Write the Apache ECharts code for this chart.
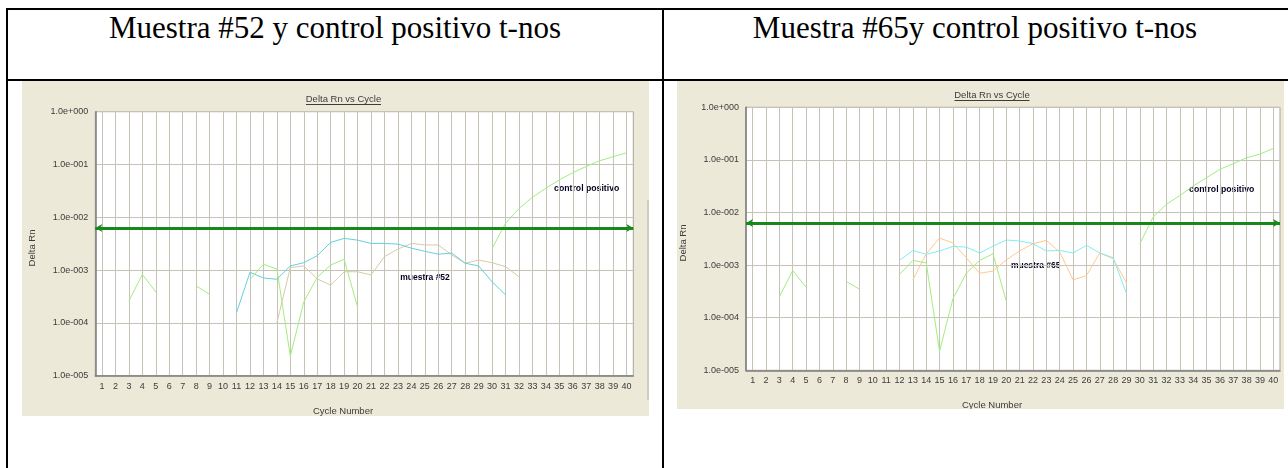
<!DOCTYPE html>
<html>
<head>
<meta charset="utf-8">
<script src="https://cdn.jsdelivr.net/npm/echarts@6/dist/echarts.min.js"></script>
<style>
    body { margin:0; background:#fff; width:1288px; height:468px; overflow:hidden; position:relative; }
    .ln { position:absolute; background:#000; }
    .ttl { position:absolute; top:11px; height:34px; line-height:34px; text-align:center;
           font-family:"Liberation Serif","Times New Roman",serif; font-size:31px; color:#000; white-space:nowrap; }
    .chart { position:absolute; background:#ece9d8; }
</style>
</head>
<body>
<div class="ln" style="left:6px;top:8px;width:1290px;height:2px"></div>
<div class="ln" style="left:6px;top:79px;width:1290px;height:2px"></div>
<div class="ln" style="left:6px;top:8px;width:2px;height:470px"></div>
<div class="ln" style="left:662px;top:8px;width:2px;height:470px"></div>
<div class="ttl" style="left:8px;width:654px">Muestra #52 y control positivo t-nos</div>
<div class="ttl" style="left:664px;width:622px">Muestra #65y control positivo t-nos</div>
<div id="chart52" class="chart" style="left:22px;top:81px;width:627px;height:335px"></div>
<div id="chart65" class="chart" style="left:677px;top:81px;width:607px;height:328px"></div>
<script>
// ciclos
var cycles = ['1','2','3','4','5','6','7','8','9','10','11','12','13','14','15','16','17','18','19','20',
    '21','22','23','24','25','26','27','28','29','30','31','32','33','34','35','36','37','38','39','40'];
var threshold = 0.0063;

//muestra #52 ---------------------------------------------------------------
var green52 = [null,null,2.6e-4,8.3e-4,3.85e-4,null,null,5.0e-4,3.5e-4,null,
    null,6.6e-4,1.29e-3,1.05e-3,2.35e-5,2.5e-4,7.3e-4,1.25e-3,1.6e-3,2.0e-4,
    null,null,null,null,null,null,null,null,null,null,
    null,null,null,null,null,null,null,null,null,null];
var cyan52 = [null,null,null,null,null,null,null,null,null,null,
    1.56e-4,9.1e-4,7.1e-4,6.7e-4,1.2e-3,1.38e-3,1.87e-3,3.35e-3,3.98e-3,3.7e-3,
    3.2e-3,3.2e-3,3.1e-3,2.6e-3,2.27e-3,2.0e-3,2.1e-3,1.35e-3,1.2e-3,6.0e-4,
    3.4e-4,null,null,null,null,null,null,null,null,null];
var tan52 = [null,null,null,null,null,null,null,null,null,null,
    null,null,null,1.0e-4,1.12e-3,1.2e-3,6.8e-4,5.2e-4,9.3e-4,9.3e-4,
    8.1e-4,1.8e-3,2.5e-3,3.2e-3,3.0e-3,3.0e-3,1.94e-3,1.35e-3,1.55e-3,1.38e-3,
    1.16e-3,7.5e-4,null,null,null,null,null,null,null,null];
var control52 = [null,null,null,null,null,null,null,null,null,null,
    null,null,null,null,null,null,null,null,null,null,
    null,null,null,null,null,null,null,null,null,2.55e-3,
    7.7e-3,1.47e-2,2.4e-2,3.55e-2,5.1e-2,7.0e-2,9.2e-2,0.118,0.14,0.167];

//muestra #65 ---------------------------------------------------------------
var green65 = [null,null,2.5e-4,7.9e-4,3.8e-4,null,null,4.9e-4,3.5e-4,null,
    null,6.6e-4,1.23e-3,1.1e-3,2.3e-5,2.3e-4,7.0e-4,1.23e-3,1.64e-3,2.05e-4,
    null,null,null,null,null,null,null,null,null,null,
    null,null,null,null,null,null,null,null,null,null];
var cyan65 = [null,null,null,null,null,null,null,null,null,null,
    null,1.23e-3,1.9e-3,1.6e-3,1.86e-3,2.26e-3,2.2e-3,1.7e-3,2.3e-3,3.0e-3,
    2.87e-3,2.56e-3,1.86e-3,1.9e-3,1.7e-3,2.37e-3,1.7e-3,1.38e-3,2.9e-4,null,
    null,null,null,null,null,null,null,null,null,null];
var orange65 = [null,null,null,null,null,null,null,null,null,null,
    null,null,5.25e-4,1.64e-3,3.27e-3,2.63e-3,1.38e-3,7.0e-4,7.7e-4,1.26e-3,
    1.86e-3,2.55e-3,2.95e-3,1.77e-3,5.25e-4,6.3e-4,1.7e-3,1.32e-3,4.6e-4,null,
    null,null,null,null,null,null,null,null,null,null];
var control65 = [null,null,null,null,null,null,null,null,null,null,
    null,null,null,null,null,null,null,null,null,null,
    null,null,null,null,null,null,null,null,null,2.56e-3,
    8.2e-3,1.44e-2,2.1e-2,3.2e-2,4.6e-2,6.6e-2,8.5e-2,0.11,0.129,0.165];

var FONT = '"Liberation Sans", Arial, sans-serif';

function expLabel(v) {
    var e = Math.round(Math.log(v) / Math.LN10);
    var s = e < 0 ? '-' : '+';
    var n = String(Math.abs(e));
    while (n.length < 3) n = '0' + n;
    return '1.0e' + s + n;
}

function txt(x, y, text, opt) {
    opt = opt || {};
    return {
        type: 'text', x: x, y: y, rotation: opt.rotation || 0, silent: true,
        style: {
            text: text, fill: opt.color || '#3c3c3c', align: 'center', verticalAlign: 'middle',
            font: (opt.bold ? 'bold ' : '') + (opt.size || 9.5) + 'px ' + FONT
        }
    };
}

function lineSeries(data, color) {
    return {
        type: 'line', data: data, showSymbol: false, symbol: 'none', silent: true,
        lineStyle: { color: color, width: 1 }, itemStyle: { color: color }
    };
}

function buildOption(p) {
    var series = [];
    for (var i = 0; i < p.lines.length; i++) {
        series.push(lineSeries(p.lines[i][0], p.lines[i][1]));
    }
    // linea de umbral
    series.push({
        type: 'line', data: [], silent: true,
        markLine: {
            silent: true, precision: 8, symbol: ['arrow', 'arrow'], symbolSize: [6, 7],
            label: { show: false },
            lineStyle: { color: '#17891a', width: 3, type: 'solid' },
            data: [{ yAxis: threshold }]
        }
    });
    var t = p.text;
    var graphic = [
        txt(t.title[0], t.title[1], 'Delta Rn vs Cycle'),
        { type: 'line', silent: true,
          shape: { x1: t.title[0] - 37.5, y1: t.title[1] + 5.5, x2: t.title[0] + 37.5, y2: t.title[1] + 5.5 },
          style: { stroke: '#3c3c3c', lineWidth: 1 } },
        txt(t.xname[0], t.xname[1], 'Cycle Number'),
        txt(t.yname[0], t.yname[1], 'Delta Rn', { rotation: Math.PI / 2 }),
        txt(t.ctrl[0], t.ctrl[1], 'control positivo', { bold: true, size: 8.7, color: '#000022' }),
        txt(t.sample[0], t.sample[1], p.sampleName, { bold: true, size: 8.5, color: '#000022' })
    ];
    if (p.extra) graphic = graphic.concat(p.extra);
    return {
        animation: false,
        backgroundColor: '#ece9d8',
        grid: {
            left: p.grid.left, top: p.grid.top, width: p.grid.width, height: p.grid.height,
            show: true, backgroundColor: '#ffffff', borderColor: '#a8a598', borderWidth: 1
        },
        xAxis: {
            type: 'category', data: cycles, boundaryGap: true,
            axisLine: { show: true, lineStyle: { color: '#7c7c7c', width: 1.5 } },
            axisTick: { show: false },
            axisLabel: { interval: 0, fontSize: 9, fontFamily: FONT, color: '#3c3c3c', margin: 6 },
            splitLine: { show: true, interval: 0, alignWithLabel: true, lineStyle: { color: '#c6c2b6', width: 1 } }
        },
        yAxis: {
            type: 'log', logBase: 10, min: 1e-5, max: 1, splitNumber: 5,
            axisLine: { show: true, lineStyle: { color: '#7c7c7c', width: 1.5 } },
            axisTick: { show: false },
            axisLabel: { fontSize: 9, fontFamily: FONT, color: '#3c3c3c', margin: 7, formatter: expLabel },
            splitLine: { show: true, lineStyle: { color: '#c6c2b6', width: 1 } }
        },
        graphic: graphic,
        series: series
    };
}

var chart52 = echarts.init(document.getElementById('chart52'));
chart52.setOption(buildOption({
    grid: { left: 73.3, top: 30.7, width: 538, height: 264 },
    lines: [[tan52, '#d6cba8'], [cyan52, '#62d2de'], [green52, '#a2ee80'], [control52, '#a2ee80']],
    sampleName: 'muestra #52',
    text: { title: [321.5, 18], xname: [321, 330.5], yname: [10, 167], ctrl: [564.7, 108], sample: [403, 196.7] },
    extra: [{ type: 'line', silent: true, shape: { x1: 626, y1: 119, x2: 626, y2: 319 },
              style: { stroke: '#b4b2a8', lineWidth: 1 } }]
}));

var chart65 = echarts.init(document.getElementById('chart65'));
chart65.setOption(buildOption({
    grid: { left: 69, top: 26.3, width: 534, height: 263 },
    lines: [[orange65, '#ffc98c'], [cyan65, '#80eef4'], [green65, '#a2ee80'], [control65, '#a2ee80']],
    sampleName: 'muestra #65',
    text: { title: [315, 14], xname: [315, 324], yname: [6, 162], ctrl: [544.7, 109], sample: [358.7, 185] }
}));
</script>
</body>
</html>
